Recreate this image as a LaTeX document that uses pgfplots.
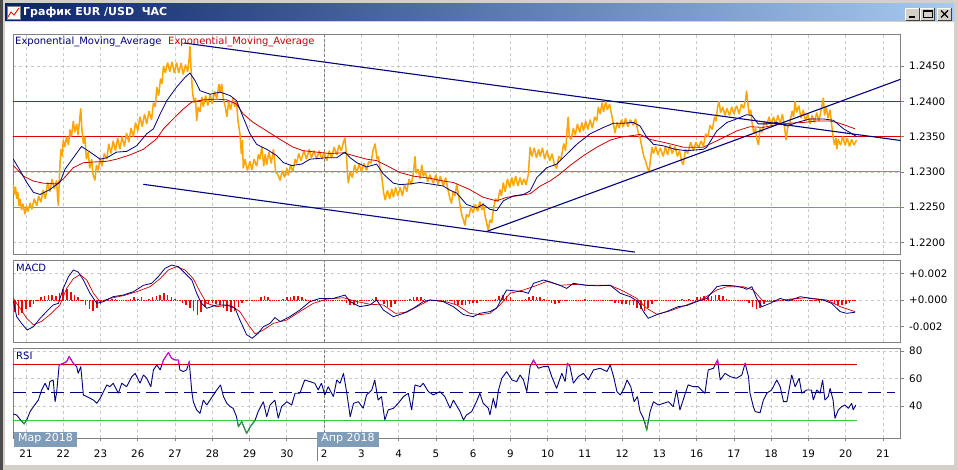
\documentclass[border=0pt]{standalone}
\usepackage{fontspec}
\setmainfont{DejaVu Sans}
\usepackage{pgfplots}
\pgfplotsset{compat=1.18}
\definecolor{winbg}{HTML}{D4D0C8}
\definecolor{tbdark}{HTML}{0A246A}
\definecolor{tblight}{HTML}{A6CAF0}
\definecolor{navyc}{HTML}{000080}
\definecolor{redc}{HTML}{CC0000}
\definecolor{orangec}{HTML}{FFA500}
\definecolor{greenc}{HTML}{33CC33}
\definecolor{gridc}{HTML}{C8C8C8}
\definecolor{borderc}{HTML}{808080}
\definecolor{magc}{HTML}{E000E0}
\definecolor{monthc}{HTML}{7F9DB9}
\pgfplotsset{
  panel/.style={
    at={(13pt,#1)}, anchor=south west,
    scale only axis, width=887.7pt,
    xmin=-0.349, xmax=23.475,
    xtick={0,...,23}, xticklabels={},
    grid=major,
    major grid style={draw=gridc, dash pattern=on 3pt off 3pt, line width=0.7pt},
    axis line style={draw=borderc, line width=0.9pt},
    ytick pos=right, yticklabel pos=right,
    xtick pos=bottom,
    tick align=outside, major tick length=3pt,
    tick style={draw=borderc, line width=0.7pt},
    ticklabel style={font=\fontsize{10.3}{12}\selectfont, text=black},
    scaled y ticks=false,
    yticklabel style={anchor=west, xshift=2pt},
    clip=true,
  },
}
\begin{document}
\begin{tikzpicture}[x=1pt,y=1pt]
\useasboundingbox (0,0) rectangle (958,-470);
\fill[winbg] (0,0) rectangle (958,-470);
\fill[black!70] (0,0) rectangle (3,-470);
\fill[white] (5,-22) rectangle (954,-465);
% title bar
\shade[left color=tbdark, right color=tblight] (5,-3.5) rectangle (954,-21);
\fill[white] (7,-6) rectangle (20,-19);
\draw[red, line width=0.9pt] (8,-17) -- (11,-12) -- (14,-15) -- (19,-8);
\draw[borderc, line width=0.5pt] (7,-6) rectangle (20,-19);
\node[anchor=west, text=white, font=\bfseries\fontsize{11}{13}\selectfont, inner sep=0pt] at (23,-12.5) {График EUR /USD\ \ ЧАС};
\foreach \bx in {905.5,920.5,937.5}{
  \fill[winbg] (\bx,-8) rectangle (\bx+14,-20);
  \draw[white, line width=0.8pt] (\bx,-20) -- (\bx,-8) -- (\bx+14,-8);
  \draw[black!75, line width=0.8pt] (\bx,-20) -- (\bx+14,-20) -- (\bx+14,-8);
}
\draw[black, line width=1.6pt] (909,-17.3) -- (915,-17.3);
\draw[black, line width=0.8pt] (923.5,-10.5) rectangle (932,-17.8);
\draw[black, line width=1.6pt] (924,-10.8) -- (931.5,-10.8);
\draw[black, line width=1.3pt] (941,-10.5) -- (948,-17.5) (948,-10.5) -- (941,-17.5);

% ================= PRICE PANEL =================
\begin{axis}[panel=-254pt, height=220pt,
  ymin=1.21837, ymax=1.24953,
  ytick={1.22,1.225,1.23,1.235,1.24,1.245},
  yticklabels={1.2200,1.2250,1.2300,1.2350,1.2400,1.2450},
  xtick style={draw=none}]
\addplot[borderc, dash pattern=on 3pt off 2pt, line width=0.7pt, forget plot] coordinates {(8,1.218) (8,1.250)};
\addplot[redc!70!red, line width=1pt] coordinates {(-0.5,1.2400) (23.6,1.2400)};
\addplot[redc!70!red, line width=1pt] coordinates {(-0.5,1.2350) (23.6,1.2350)};
\addplot[greenc, line width=1pt] coordinates {(-0.5,1.2300) (23.6,1.2300)};
\addplot[greenc, line width=1pt] coordinates {(-0.5,1.2250) (23.6,1.2250)};
% price
\addplot[orangec, line width=1.5pt, line join=bevel] coordinates {
(-0.34,1.2282) (-0.31,1.2268) (-0.28,1.2279) (-0.25,1.2262) (-0.22,1.2272) (-0.19,1.2252) (-0.16,1.2262) (-0.12,1.2246) (-0.08,1.2255) (-0.03,1.2240)
(0.01,1.2252) (0.05,1.2244) (0.11,1.2256) (0.16,1.2247) (0.22,1.2262) (0.29,1.2252) (0.34,1.2266) (0.40,1.2257) (0.46,1.2274) (0.52,1.2262)
(0.58,1.2285) (0.64,1.2272) (0.70,1.2290) (0.76,1.2276) (0.82,1.2288) (0.85,1.2262) (0.87,1.2252) (0.89,1.2285) (0.91,1.2310) (0.94,1.2332)
(0.97,1.2322) (1.00,1.2345) (1.04,1.2335) (1.09,1.2350) (1.14,1.2338) (1.18,1.2360) (1.22,1.2350) (1.27,1.2372) (1.31,1.2356) (1.36,1.2368)
(1.40,1.2352) (1.44,1.2375) (1.47,1.2390) (1.50,1.2360) (1.54,1.2340) (1.58,1.2350) (1.62,1.2318) (1.67,1.2328) (1.71,1.2305) (1.76,1.2318)
(1.80,1.2296) (1.85,1.2288) (1.89,1.2310) (1.94,1.2302) (1.99,1.2320) (2.04,1.2308) (2.10,1.2326) (2.17,1.2318) (2.22,1.2340) (2.28,1.2326)
(2.34,1.2344) (2.40,1.2330) (2.46,1.2348) (2.52,1.2332) (2.58,1.2350) (2.64,1.2336) (2.70,1.2355) (2.76,1.2342) (2.82,1.2362) (2.88,1.2350)
(2.94,1.2370) (3.00,1.2358) (3.06,1.2378) (3.12,1.2364) (3.18,1.2382) (3.24,1.2368) (3.30,1.2386) (3.37,1.2374) (3.42,1.2398) (3.47,1.2392)
(3.51,1.2420) (3.56,1.2408) (3.61,1.2432) (3.65,1.2425) (3.69,1.2450) (3.74,1.2440) (3.80,1.2455) (3.86,1.2442) (3.92,1.2456) (3.98,1.2440)
(4.04,1.2455) (4.10,1.2440) (4.16,1.2454) (4.22,1.2438) (4.28,1.2452) (4.34,1.2442) (4.38,1.2462) (4.40,1.2478) (4.43,1.2445) (4.47,1.2412)
(4.51,1.2398) (4.55,1.2405) (4.58,1.2372) (4.62,1.2392) (4.67,1.2385) (4.72,1.2406) (4.76,1.2392) (4.82,1.2408) (4.88,1.2394) (4.94,1.2410)
(5.00,1.2396) (5.06,1.2414) (5.12,1.2404) (5.18,1.2424) (5.21,1.2412) (5.25,1.2425) (5.30,1.2402) (5.35,1.2392) (5.39,1.2378) (5.44,1.2400)
(5.49,1.2388) (5.56,1.2405) (5.60,1.2392) (5.65,1.2400) (5.69,1.2372) (5.74,1.2355) (5.78,1.2325) (5.81,1.2345) (5.83,1.2305) (5.88,1.2318)
(5.94,1.2302) (6.01,1.2315) (6.06,1.2303) (6.12,1.2318) (6.19,1.2308) (6.24,1.2325) (6.28,1.2318) (6.33,1.2336) (6.38,1.2308) (6.42,1.2325)
(6.46,1.2310) (6.52,1.2328) (6.58,1.2312) (6.64,1.2332) (6.70,1.2300) (6.76,1.2296) (6.82,1.2288) (6.88,1.2302) (6.94,1.2292) (7.00,1.2305)
(7.04,1.2295) (7.10,1.2310) (7.16,1.2300) (7.22,1.2318) (7.26,1.2312) (7.32,1.2326) (7.38,1.2316) (7.46,1.2330) (7.53,1.2318) (7.60,1.2332)
(7.66,1.2320) (7.73,1.2330) (7.80,1.2318) (7.87,1.2330) (7.94,1.2318) (8.00,1.2328) (8.07,1.2316) (8.14,1.2330) (8.20,1.2320) (8.27,1.2335)
(8.34,1.2324) (8.40,1.2338) (8.46,1.2330) (8.52,1.2342) (8.56,1.2348) (8.60,1.2325) (8.63,1.2296) (8.65,1.2284) (8.70,1.2300) (8.76,1.2292)
(8.82,1.2310) (8.88,1.2298) (8.94,1.2312) (9.00,1.2300) (9.07,1.2312) (9.14,1.2302) (9.20,1.2315) (9.26,1.2312) (9.31,1.2330) (9.37,1.2340)
(9.42,1.2318) (9.46,1.2322) (9.50,1.2305) (9.55,1.2292) (9.60,1.2270) (9.64,1.2260) (9.70,1.2274) (9.76,1.2262) (9.82,1.2276) (9.86,1.2264)
(9.92,1.2278) (9.98,1.2266) (10.04,1.2278) (10.10,1.2266) (10.16,1.2282) (10.22,1.2272) (10.28,1.2290) (10.34,1.2282) (10.40,1.2300) (10.44,1.2322)
(10.47,1.2298) (10.52,1.2304) (10.58,1.2290) (10.62,1.2310) (10.66,1.2294) (10.72,1.2300) (10.78,1.2286) (10.84,1.2296) (10.93,1.2284) (11.00,1.2296)
(11.06,1.2282) (11.12,1.2294) (11.20,1.2280) (11.26,1.2292) (11.32,1.2276) (11.38,1.2262) (11.42,1.2255) (11.46,1.2272) (11.51,1.2266) (11.56,1.2282)
(11.60,1.2270) (11.64,1.2256) (11.70,1.2238) (11.74,1.2232) (11.78,1.2224) (11.82,1.2240) (11.88,1.2236) (11.94,1.2250) (12.00,1.2242) (12.06,1.2254)
(12.12,1.2244) (12.18,1.2258) (12.24,1.2246) (12.27,1.2256) (12.32,1.2238) (12.37,1.2226) (12.41,1.2217) (12.45,1.2232) (12.50,1.2228) (12.54,1.2246)
(12.60,1.2262) (12.66,1.2258) (12.72,1.2275) (12.76,1.2266) (12.81,1.2285) (12.86,1.2272) (12.92,1.2290) (12.98,1.2278) (13.04,1.2292) (13.08,1.2280)
(13.14,1.2294) (13.20,1.2280) (13.26,1.2292) (13.31,1.2282) (13.36,1.2290) (13.42,1.2282) (13.48,1.2296) (13.51,1.2320) (13.53,1.2335) (13.58,1.2322)
(13.64,1.2334) (13.70,1.2320) (13.76,1.2332) (13.80,1.2322) (13.86,1.2334) (13.92,1.2318) (13.98,1.2330) (14.06,1.2316) (14.12,1.2326) (14.18,1.2310)
(14.24,1.2305) (14.30,1.2322) (14.36,1.2318) (14.43,1.2340) (14.48,1.2330) (14.52,1.2358) (14.55,1.2378) (14.58,1.2350) (14.63,1.2346) (14.69,1.2362)
(14.74,1.2352) (14.80,1.2368) (14.86,1.2356) (14.92,1.2370) (14.96,1.2358) (15.02,1.2372) (15.08,1.2360) (15.14,1.2374) (15.20,1.2362) (15.26,1.2378)
(15.32,1.2372) (15.36,1.2392) (15.41,1.2382) (15.46,1.2398) (15.50,1.2385) (15.56,1.2400) (15.60,1.2388) (15.66,1.2396) (15.72,1.2380) (15.77,1.2366)
(15.81,1.2355) (15.86,1.2370) (15.92,1.2362) (15.98,1.2374) (16.03,1.2364) (16.09,1.2376) (16.15,1.2364) (16.22,1.2374) (16.30,1.2366) (16.36,1.2375)
(16.42,1.2358) (16.48,1.2348) (16.53,1.2335) (16.58,1.2322) (16.63,1.2315) (16.68,1.2305) (16.72,1.2300) (16.76,1.2318) (16.80,1.2335) (16.84,1.2326)
(16.90,1.2336) (16.96,1.2324) (17.02,1.2334) (17.10,1.2322) (17.16,1.2336) (17.22,1.2324) (17.28,1.2338) (17.34,1.2326) (17.42,1.2336) (17.48,1.2322)
(17.54,1.2330) (17.60,1.2314) (17.64,1.2310) (17.70,1.2332) (17.76,1.2326) (17.84,1.2342) (17.91,1.2330) (17.98,1.2342) (18.05,1.2334) (18.12,1.2344)
(18.18,1.2336) (18.24,1.2354) (18.30,1.2350) (18.36,1.2366) (18.42,1.2360) (18.48,1.2378) (18.52,1.2372) (18.56,1.2392) (18.60,1.2400) (18.64,1.2384)
(18.70,1.2392) (18.76,1.2380) (18.81,1.2390) (18.88,1.2380) (18.94,1.2392) (19.00,1.2382) (19.07,1.2394) (19.14,1.2382) (19.20,1.2396) (19.26,1.2390)
(19.31,1.2402) (19.34,1.2415) (19.37,1.2398) (19.41,1.2380) (19.45,1.2388) (19.48,1.2372) (19.53,1.2355) (19.58,1.2362) (19.62,1.2345) (19.66,1.2338)
(19.70,1.2362) (19.76,1.2356) (19.82,1.2372) (19.88,1.2366) (19.94,1.2378) (20.00,1.2366) (20.06,1.2378) (20.12,1.2368) (20.18,1.2380) (20.24,1.2368)
(20.30,1.2382) (20.36,1.2362) (20.40,1.2345) (20.44,1.2362) (20.50,1.2370) (20.56,1.2386) (20.60,1.2378) (20.64,1.2400) (20.68,1.2384) (20.74,1.2394)
(20.80,1.2376) (20.86,1.2388) (20.92,1.2372) (20.98,1.2382) (21.04,1.2368) (21.10,1.2380) (21.16,1.2370) (21.22,1.2384) (21.28,1.2372) (21.34,1.2388)
(21.40,1.2405) (21.43,1.2380) (21.48,1.2392) (21.52,1.2376) (21.58,1.2388) (21.62,1.2368) (21.66,1.2350) (21.70,1.2338) (21.74,1.2348) (21.76,1.2332)
(21.80,1.2346) (21.86,1.2338) (21.92,1.2350) (21.98,1.2338) (22.04,1.2348) (22.10,1.2336) (22.16,1.2346) (22.22,1.2338) (22.29,1.2345)
};
% slow EMA (red)
\addplot[redc, line width=0.8pt] coordinates {
(-0.34,1.2309) (-0.07,1.2294) (0.20,1.2287) (0.46,1.2284) (0.82,1.2283) (1.00,1.2290) (1.27,1.2306) (1.54,1.2313) (1.81,1.2314) (2.17,1.2315)
(2.43,1.2318) (2.79,1.2324) (3.15,1.2332) (3.51,1.2347) (3.69,1.2361) (3.95,1.2375) (4.22,1.2389) (4.45,1.2399) (4.76,1.2402) (5.12,1.2403)
(5.39,1.2402) (5.65,1.2396) (5.83,1.2382) (6.10,1.2370) (6.46,1.2358) (6.82,1.2346) (7.17,1.2335) (7.44,1.2330) (7.80,1.2328) (8.16,1.2326)
(8.52,1.2327) (8.79,1.2323) (9.14,1.2318) (9.41,1.2316) (9.68,1.2309) (10.04,1.2299) (10.39,1.2294) (10.84,1.2291) (11.20,1.2287) (11.47,1.2285)
(11.56,1.2283) (11.91,1.2275) (12.27,1.2264) (12.63,1.2259) (12.90,1.2264) (13.17,1.2266) (13.53,1.2269) (13.80,1.2280) (14.06,1.2287) (14.33,1.2297)
(14.60,1.2309) (14.96,1.2323) (15.32,1.2335) (15.68,1.2345) (15.95,1.2349) (16.21,1.2351) (16.48,1.2353) (16.75,1.2346) (17.10,1.2342) (17.42,1.2338)
(17.64,1.2335) (18.18,1.2335) (18.54,1.2344) (18.81,1.2351) (19.07,1.2358) (19.43,1.2364) (19.79,1.2363) (20.15,1.2367) (20.51,1.2369) (20.86,1.2370)
(21.22,1.2372) (21.58,1.2372) (21.76,1.2370) (21.94,1.2367) (22.25,1.2361)
};
% fast EMA (blue)
\addplot[navyc, line width=0.8pt] coordinates {
(-0.34,1.2318) (-0.16,1.2302) (0.02,1.2285) (0.20,1.2271) (0.38,1.2268) (0.64,1.2275) (0.82,1.2282) (0.91,1.2285) (1.05,1.2304) (1.27,1.2320)
(1.49,1.2336) (1.72,1.2328) (1.99,1.2318) (2.17,1.2320) (2.43,1.2328) (2.70,1.2329) (2.97,1.2337) (3.24,1.2354) (3.42,1.2361) (3.60,1.2382)
(3.78,1.2401) (4.04,1.2420) (4.27,1.2434) (4.40,1.2440) (4.54,1.2429) (4.67,1.2415) (4.94,1.2410) (5.21,1.2413) (5.48,1.2408) (5.65,1.2401)
(5.83,1.2377) (6.01,1.2354) (6.19,1.2339) (6.46,1.2332) (6.73,1.2323) (6.91,1.2313) (7.13,1.2309) (7.40,1.2311) (7.62,1.2318) (8.07,1.2320)
(8.34,1.2320) (8.56,1.2328) (8.70,1.2320) (8.88,1.2313) (9.14,1.2307) (9.41,1.2311) (9.59,1.2297) (9.86,1.2284) (10.04,1.2282) (10.31,1.2283)
(10.57,1.2285) (10.84,1.2283) (11.20,1.2280) (11.38,1.2274) (11.56,1.2270) (11.82,1.2254) (12.09,1.2249) (12.27,1.2254) (12.45,1.2247) (12.63,1.2245)
(12.81,1.2259) (13.08,1.2266) (13.35,1.2268) (13.53,1.2273) (13.71,1.2292) (13.98,1.2306) (14.24,1.2311) (14.51,1.2325) (14.78,1.2339) (15.14,1.2354)
(15.50,1.2363) (15.77,1.2369) (16.03,1.2369) (16.30,1.2370) (16.48,1.2365) (16.66,1.2349) (16.84,1.2339) (17.10,1.2337) (17.42,1.2332) (17.73,1.2330)
(18.18,1.2332) (18.27,1.2335) (18.54,1.2358) (18.81,1.2370) (19.07,1.2375) (19.34,1.2381) (19.48,1.2380) (19.65,1.2368) (19.88,1.2368) (20.15,1.2370)
(20.42,1.2365) (20.69,1.2370) (21.04,1.2375) (21.40,1.2375) (21.67,1.2373) (21.94,1.2361) (22.17,1.2354) (22.29,1.2350)
};
% trend lines
\addplot[navyc, line width=1.1pt] coordinates {(4.25,1.24825) (23.47,1.23445)};
\addplot[navyc, line width=1.1pt] coordinates {(3.148,1.22824) (16.34,1.21864)};
\addplot[navyc, line width=1.1pt] coordinates {(12.364,1.22156) (23.47,1.24311)};
\end{axis}

% ================= MACD PANEL =================
\begin{axis}[panel=-342pt, height=82pt,
  ymin=-0.00315, ymax=0.0030,
  ytick={-0.002,0,0.002},
  yticklabels={-0.002,+0.000,+0.002},
  xtick style={draw=none}]
\addplot[borderc, dash pattern=on 3pt off 2pt, line width=0.7pt] coordinates {(8,-0.0035) (8,0.0035)};
\addplot[red, densely dotted, line width=0.8pt] coordinates {(-0.35,0) (22.3,0)};
\addplot[red, ycomb, line width=1.6pt] coordinates {
(-0.3,-0.0009) (-0.2,-0.0011) (-0.1,-0.0010) (0.0,-0.0007) (0.1,-0.0005) (0.2,-0.0003) (0.3,-0.0001) (0.4,0.0002) (0.5,0.0003) (0.6,0.0004)
(0.7,0.0004) (0.8,0.0003) (0.9,0.0005) (1.0,0.0008) (1.1,0.0008) (1.2,0.0006) (1.3,0.0004) (1.4,0.0002) (1.5,-0.0001) (1.6,-0.0004)
(1.7,-0.0007) (1.8,-0.0008) (1.9,-0.0006) (2.0,-0.0003) (2.1,-0.0001) (2.3,0.0001) (2.4,0.0001) (2.8,0.0001) (2.9,0.0002) (3.0,0.0001)
(3.1,0.0002) (3.3,0.0001) (3.4,0.0002) (3.5,0.0003) (3.6,0.0004) (3.7,0.0005) (3.8,0.0004) (3.9,0.0002) (4.0,0.0001) (4.2,-0.0002)
(4.3,-0.0004) (4.4,-0.0006) (4.5,-0.0008) (4.6,-0.0011) (4.7,-0.0009) (4.8,-0.0005) (4.9,-0.0003) (5.0,-0.0002) (5.1,-0.0003) (5.2,-0.0004)
(5.3,-0.0006) (5.4,-0.0008) (5.5,-0.0009) (5.6,-0.0008) (5.7,-0.0005) (5.8,-0.0002) (5.9,-0.0001) (6.3,0.0002) (6.4,0.0003) (6.5,0.0002)
(6.9,0.0001) (7.0,0.0002) (7.1,0.0002) (7.2,0.0003) (7.3,0.0003) (7.4,0.0002) (7.5,0.0001) (8.6,-0.0002) (8.7,-0.0004) (8.8,-0.0004)
(8.9,-0.0003) (9.0,-0.0001) (9.3,0.0001) (9.4,0.0002) (9.6,-0.0003) (9.7,-0.0005) (9.8,-0.0005) (9.9,-0.0003) (10.0,-0.0001) (10.3,0.0001)
(10.4,0.0002) (10.5,0.0002) (10.6,0.0002) (10.7,0.0001) (11.4,-0.0001) (11.5,-0.0003) (11.6,-0.0004) (11.7,-0.0004) (11.8,-0.0004) (11.9,-0.0003)
(12.0,-0.0002) (12.1,-0.0002) (12.2,-0.0001) (12.6,0.0001) (12.7,0.0003) (12.8,0.0004) (12.9,0.0003) (13.0,0.0002) (13.4,0.0001) (13.5,0.0002)
(13.6,0.0003) (13.7,0.0002) (13.8,0.0002) (13.9,0.0001) (14.1,-0.0002) (14.2,-0.0003) (14.3,-0.0002) (14.4,-0.0001) (14.5,-0.0001) (15.0,0.0001)
(15.7,-0.0001) (15.8,-0.0002) (15.9,-0.0002) (16.0,-0.0003) (16.1,-0.0003) (16.2,-0.0004) (16.3,-0.0004) (16.4,-0.0006) (16.5,-0.0007) (16.6,-0.0008)
(16.7,-0.0006) (16.8,-0.0003) (16.9,-0.0001) (17.6,0.0001) (17.8,0.0001) (18.0,0.0002) (18.1,0.0002) (18.2,0.0003) (18.3,0.0002) (18.4,0.0003)
(18.5,0.0004) (18.6,0.0004) (18.7,0.0003) (18.8,0.0001) (19.4,-0.0002) (19.5,-0.0005) (19.6,-0.0007) (19.7,-0.0006) (19.8,-0.0003) (19.9,-0.0001)
(20.5,0.0001) (21.1,-0.0001) (21.2,-0.0001) (21.3,-0.0002) (21.4,-0.0001) (21.6,-0.0001) (21.7,-0.0003) (21.8,-0.0004) (21.9,-0.0004) (22.0,-0.0003)
(22.1,-0.0002) (22.2,-0.0001)
};
% signal (red)
\addplot[redc, line width=0.7pt] coordinates {
(-0.34,0.00012) (-0.16,-0.00062) (0.02,-0.00137) (0.20,-0.00187) (0.42,-0.0016) (0.64,-0.0011) (0.91,-0.00037) (1.09,0.00087) (1.27,0.0016) (1.45,0.0019)
(1.63,0.0015) (1.81,0.0005) (1.99,-0.00012) (2.25,0.00012) (2.61,0.00032) (2.97,0.00062) (3.33,0.001) (3.60,0.0016) (3.82,0.00225) (4.04,0.0025)
(4.27,0.00225) (4.49,0.0016) (4.67,0.00062) (4.85,-0.00025) (5.12,-0.0005) (5.48,-0.00037) (5.74,-0.00087) (5.97,-0.00187) (6.15,-0.00255) (6.37,-0.00225)
(6.64,-0.00175) (7.00,-0.0015) (7.35,-0.00087) (7.71,-0.00025) (8.07,0.00007) (8.52,0.00017) (8.88,-0.00012) (9.23,-0.00032) (9.59,-0.00037) (9.91,-0.001)
(10.22,-0.00092) (10.58,-0.00037) (10.84,0) (11.20,-0.00007) (11.56,-0.00037) (11.91,-0.001) (12.18,-0.0011) (12.45,-0.001) (12.72,-0.00037) (12.99,0.0005)
(13.35,0.00075) (13.71,0.0011) (13.98,0.0014) (14.33,0.0011) (14.69,0.00117) (15.14,0.0011) (15.68,0.0011) (16.03,0.00067) (16.39,0.00012) (16.66,-0.00062)
(16.93,-0.00107) (17.28,-0.00082) (17.73,-0.00037) (18.18,0.00012) (18.54,0.00075) (18.81,0.001) (19.25,0.001) (19.52,0.00075) (19.79,-0.00012) (20.06,-0.00012)
(20.51,0.00007) (20.96,0.00017) (21.49,0) (21.85,-0.0005) (22.25,-0.00087)
};
% MACD (blue)
\addplot[navyc, line width=0.8pt] coordinates {
(-0.34,-0.0001) (-0.25,-0.00125) (-0.12,-0.00175) (0.03,-0.00225) (0.20,-0.0020) (0.38,-0.00137) (0.55,-0.00087) (0.73,-0.00037) (0.87,-0.00025) (1.00,0.00087)
(1.14,0.00175) (1.27,0.00225) (1.40,0.0021) (1.54,0.0015) (1.72,0.0005) (1.90,-0.00025) (2.08,-0.00012) (2.34,0.00025) (2.61,0.00037) (2.88,0.00062)
(3.15,0.0011) (3.37,0.00125) (3.55,0.00175) (3.73,0.00237) (3.91,0.00262) (4.09,0.0025) (4.27,0.002) (4.45,0.0015) (4.58,0.0005) (4.71,-0.00025)
(4.85,-0.00062) (5.12,-0.00037) (5.39,-0.00037) (5.61,-0.00062) (5.74,-0.0015) (5.92,-0.0026) (6.07,-0.00287) (6.23,-0.0025) (6.37,-0.002) (6.55,-0.00175)
(6.68,-0.00132) (6.82,-0.00162) (7.08,-0.00125) (7.35,-0.00075) (7.62,-0.00012) (7.89,0.00012) (8.25,0.00012) (8.56,0.00037) (8.70,-0.00012) (8.96,-0.0005)
(9.23,-0.00037) (9.41,0) (9.59,-0.00075) (9.86,-0.00125) (10.13,-0.001) (10.40,-0.00062) (10.66,-0.00012) (10.84,0) (11.20,-0.00012) (11.47,-0.0005)
(11.74,-0.0011) (12.0,-0.00125) (12.18,-0.001) (12.45,-0.00087) (12.63,-0.00062) (12.77,0.00012) (12.90,0.00075) (13.17,0.00067) (13.35,0.00062) (13.48,0.0005)
(13.62,0.00125) (13.89,0.0015) (14.11,0.00132) (14.33,0.0011) (14.51,0.00087) (14.69,0.00125) (15.05,0.0011) (15.32,0.00107) (15.68,0.0011) (15.95,0.0005)
(16.21,0.00025) (16.43,-0.00012) (16.57,-0.00087) (16.70,-0.00137) (16.93,-0.0011) (17.19,-0.00087) (17.50,-0.0005) (17.73,-0.00042) (18.00,-0.00012) (18.27,0.00012)
(18.54,0.001) (18.72,0.0011) (18.99,0.00107) (19.25,0.00092) (19.34,0.0008) (19.48,0.001) (19.61,0.00012) (19.75,-0.0005) (19.97,-0.00025) (20.24,0.00012)
(20.46,-0.00007) (20.78,0.00025) (21.04,0.00012) (21.40,0) (21.62,-0.00025) (21.85,-0.00087) (22.02,-0.001) (22.25,-0.00092)
};
\end{axis}

% ================= RSI PANEL =================
\begin{axis}[panel=-438.3pt, height=90pt,
  ymin=16.7, ymax=82.1,
  ytick={40,60,80},
  yticklabels={40,60,80},
  xticklabels={21,22,23,26,27,28,29,30,2,3,4,5,6,9,10,11,12,13,16,17,18,19,20,21},
  xticklabel style={yshift=-5pt}]
\addplot[borderc, dash pattern=on 3pt off 2pt, line width=0.7pt] coordinates {(8,10) (8,90)};
\addplot[redc!70!red, line width=0.9pt] coordinates {(-0.35,70) (22.29,70)};
\addplot[greenc, line width=0.9pt] coordinates {(-0.35,30) (22.29,30)};
\addplot[navyc, line width=1pt, dash pattern=on 13pt off 6pt] coordinates {(-0.35,50) (23.32,50)};
\addplot[navyc, line width=0.9pt, line join=bevel] coordinates {
(-0.34,34.4) (-0.25,33.6) (-0.16,30.5) (-0.05,27.1) (0.02,30) (0.11,36.1) (0.20,39.7) (0.33,44.5) (0.42,51.8) (0.51,56.7)
(0.60,51.8) (0.64,57.9) (0.73,59.1) (0.78,43.3) (0.82,49.4) (0.89,70) (1.00,71.2) (1.09,72.4) (1.16,76.1) (1.27,71.2)
(1.36,68.8) (1.40,63.9) (1.47,68.8) (1.54,48.2) (1.63,47) (1.72,45.8) (1.81,44.5) (1.90,42.1) (1.99,45.8) (2.08,50.6)
(2.17,55.5) (2.25,54.2) (2.34,56.7) (2.48,49.4) (2.57,56.7) (2.70,54.2) (2.84,61.5) (2.93,63.9) (3.06,56.7) (3.15,62.7)
(3.24,60.3) (3.35,54.2) (3.42,66.4) (3.51,70) (3.60,66.4) (3.69,73.6) (3.82,79) (3.91,74.8) (4.00,73.6) (4.09,73.6)
(4.13,66.4) (4.22,65.2) (4.31,66.4) (4.38,72.4) (4.45,50.6) (4.49,43.3) (4.58,37.3) (4.67,34.8) (4.76,44.5) (4.85,40.9)
(4.94,44.5) (5.03,48.2) (5.12,51.8) (5.22,55.5) (5.30,47) (5.39,42.1) (5.48,39.7) (5.56,38.5) (5.65,32.4) (5.70,25.2)
(5.79,28.8) (5.92,20.3) (6.01,24.7) (6.15,30) (6.23,36.1) (6.37,43.3) (6.46,32.4) (6.55,40.9) (6.68,44.5) (6.77,31.2)
(6.86,39.7) (7.00,43.3) (7.13,40.9) (7.22,49.4) (7.35,49.4) (7.48,59.1) (7.62,57.9) (7.75,56.7) (7.84,51.8) (7.93,56.7)
(8.02,48.2) (8.11,54.2) (8.25,47) (8.34,59.1) (8.43,56.7) (8.52,63.9) (8.61,49.4) (8.70,32.4) (8.79,42.1) (8.92,43.3)
(9.05,38.5) (9.14,48.2) (9.28,51.8) (9.36,59.1) (9.45,44.5) (9.54,47) (9.63,30) (9.72,37.3) (9.86,38.5) (9.99,42.1)
(10.13,47) (10.26,49.4) (10.35,37.3) (10.44,55.5) (10.58,54.2) (10.66,56.7) (10.80,50.6) (10.93,48.2) (11.11,50.6) (11.24,47)
(11.38,38.5) (11.47,44.5) (11.65,36.1) (11.74,30) (11.82,33.6) (11.96,36.1) (12.09,43.3) (12.18,49.4) (12.27,42.1) (12.41,38.5)
(12.45,33.6) (12.54,45.8) (12.61,38.5) (12.68,51.8) (12.77,60.3) (12.90,65.2) (13.04,59.1) (13.17,57.9) (13.26,62.7) (13.35,59.1)
(13.44,50.6) (13.53,68.8) (13.62,73.6) (13.75,67.6) (13.89,68.8) (14.02,68.8) (14.11,61.5) (14.24,53) (14.38,63.9) (14.47,57.9)
(14.53,71.2) (14.60,68.8) (14.69,56.7) (14.82,61.5) (14.96,63.9) (15.09,59.1) (15.23,66.4) (15.41,67.6) (15.59,65.2) (15.68,70)
(15.77,61.5) (15.86,50.6) (15.95,48.2) (16.05,53) (16.13,59.1) (16.23,54.2) (16.32,43.3) (16.41,47) (16.48,36.1) (16.57,31.2)
(16.66,22.7) (16.75,36.1) (16.84,43.3) (16.97,40.9) (17.11,42.1) (17.24,43.3) (17.37,39.7) (17.46,51.8) (17.55,37.3) (17.68,48.2)
(17.77,55.5) (17.91,54.2) (18.04,54.2) (18.13,51.8) (18.22,49.4) (18.31,66.4) (18.45,67.6) (18.56,73.6) (18.63,59.1) (18.76,63.9)
(18.90,61.5) (19.07,60.3) (19.21,62.7) (19.30,71.2) (19.39,61.5) (19.43,49.4) (19.52,39.7) (19.57,36.1) (19.70,35.3) (19.79,44.5)
(19.88,49.4) (20.01,51.8) (20.15,59.1) (20.24,54.2) (20.33,43.3) (20.42,43.3) (20.55,62.7) (20.64,54.2) (20.75,60.3) (20.82,49.4)
(20.95,51.8) (21.08,51.8) (21.13,44.5) (21.22,51.8) (21.31,49.4) (21.38,59.1) (21.44,44.5) (21.53,47) (21.58,53) (21.66,44.5)
(21.71,31.2) (21.80,37.3) (21.89,39.7) (21.98,40.9) (22.07,38.5) (22.16,42.1) (22.20,37.3) (22.27,40.9)
};
% overbought parts
\addplot[magc, line width=0.9pt] coordinates {(0.89,70) (1.00,71.2) (1.09,72.4) (1.16,76.1) (1.27,71.2) (1.31,70)};
\addplot[magc, line width=0.9pt] coordinates {(3.65,70) (3.69,73.6) (3.82,79) (3.91,74.8) (4.00,73.6) (4.09,73.6) (4.11,70)};
\addplot[magc, line width=0.9pt] coordinates {(4.36,70) (4.38,72.4) (4.40,70)};
\addplot[magc, line width=0.9pt] coordinates {(13.56,70) (13.62,73.6) (13.70,70)};
\addplot[magc, line width=0.9pt] coordinates {(14.52,70) (14.53,71.2) (14.57,70)};
\addplot[magc, line width=0.9pt] coordinates {(18.49,70) (18.56,73.6) (18.59,70)};
\addplot[magc, line width=0.9pt] coordinates {(19.28,70) (19.30,71.2) (19.32,70)};
% oversold parts
\addplot[greenc!80!black, line width=0.9pt] coordinates {(-0.14,30) (-0.05,27.1) (0.02,30)};
\addplot[greenc!80!black, line width=0.9pt] coordinates {(5.67,30) (5.70,25.2) (5.79,28.8) (5.92,20.3) (6.01,24.7) (6.15,30)};
\addplot[greenc!80!black, line width=0.9pt] coordinates {(16.60,30) (16.66,22.7) (16.70,30)};
\end{axis}

% labels
\node[anchor=west, inner sep=0pt, font=\fontsize{10}{12}\selectfont, text=navyc] at (15,-42) {Exponential\_Moving\_Average};
\node[anchor=west, inner sep=0pt, font=\fontsize{10}{12}\selectfont, text=redc] at (168,-42) {Exponential\_Moving\_Average};
\node[anchor=west, inner sep=0pt, font=\fontsize{10}{12}\selectfont, text=navyc] at (16,-268) {MACD};
\node[anchor=west, inner sep=0pt, font=\fontsize{10}{12}\selectfont, text=navyc] at (16,-356) {RSI};
% month markers
\draw[borderc, line width=0.8pt] (317,-439) -- (317,-461);
\fill[monthc] (14,-431.5) rectangle (77,-446.5);
\node[text=white, inner sep=0pt, font=\fontsize{11}{13}\selectfont] at (45.5,-439) {Мар 2018};
\fill[monthc] (317,-431.5) rectangle (379,-446.5);
\node[text=white, inner sep=0pt, font=\fontsize{11}{13}\selectfont] at (348,-439) {Апр 2018};
\end{tikzpicture}
\end{document}
